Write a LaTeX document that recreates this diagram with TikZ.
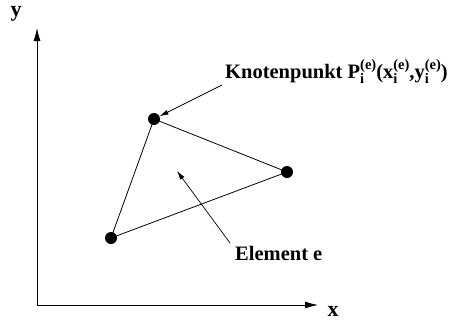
\documentclass[tikz,border=0pt]{standalone}
\usepackage{fontspec}
\setmainfont{Liberation Serif}
\usetikzlibrary{arrows.meta}
\newcommand\ptsym[1]{#1\rlap{\raisebox{-5.5pt}{\fontsize{14.5}{14.5}\selectfont i}}\raisebox{8.5pt}{\fontsize{14.5}{14.5}\selectfont(e)}}
\begin{document}
\begin{tikzpicture}[x=1pt,y=-1pt,
  axis/.style={line width=0.8pt,-{Latex[length=13pt,width=7pt]}},
  edge/.style={line width=0.8pt},
  pointer/.style={line width=0.7pt,-{Latex[length=9pt,width=5pt]}},
  dot/.style={circle,fill=black,inner sep=0pt,minimum size=12pt},
  lbl/.style={font=\bfseries\fontsize{20.5}{23}\selectfont,inner sep=0pt}]
\useasboundingbox (0,0) rectangle (460,327);
\coordinate (O) at (37,305);
\coordinate (yend) at (37,28);
\coordinate (xend) at (318,305);
\draw[axis] (O) -- (yend);
\draw[axis] (O) -- (xend);
\node[lbl,font=\bfseries\fontsize{22}{24}\selectfont] (ylab) at (16,14) {y};
\node[lbl,font=\bfseries\fontsize{22}{24}\selectfont] (xlab) at (333,311) {x};
\node[dot] (p1) at (154,119) {};
\node[dot] (p2) at (287,172) {};
\node[dot] (p3) at (111,238) {};
\draw[edge] (p1.center) -- (p2.center) -- (p3.center) -- cycle;
\node[lbl,anchor=base west] (knot) at (225,78) {Knotenpunkt \ptsym{P}(\ptsym{x},\ptsym{y})};
\node[lbl,anchor=base west] (elem) at (235,260) {Element e};
\coordinate (ks) at (222,85);
\coordinate (es) at (230,243);
\coordinate (et) at (177,171);
\draw[pointer] (ks) -- (p1);
\draw[pointer] (es) -- (et);
\end{tikzpicture}
\end{document}
